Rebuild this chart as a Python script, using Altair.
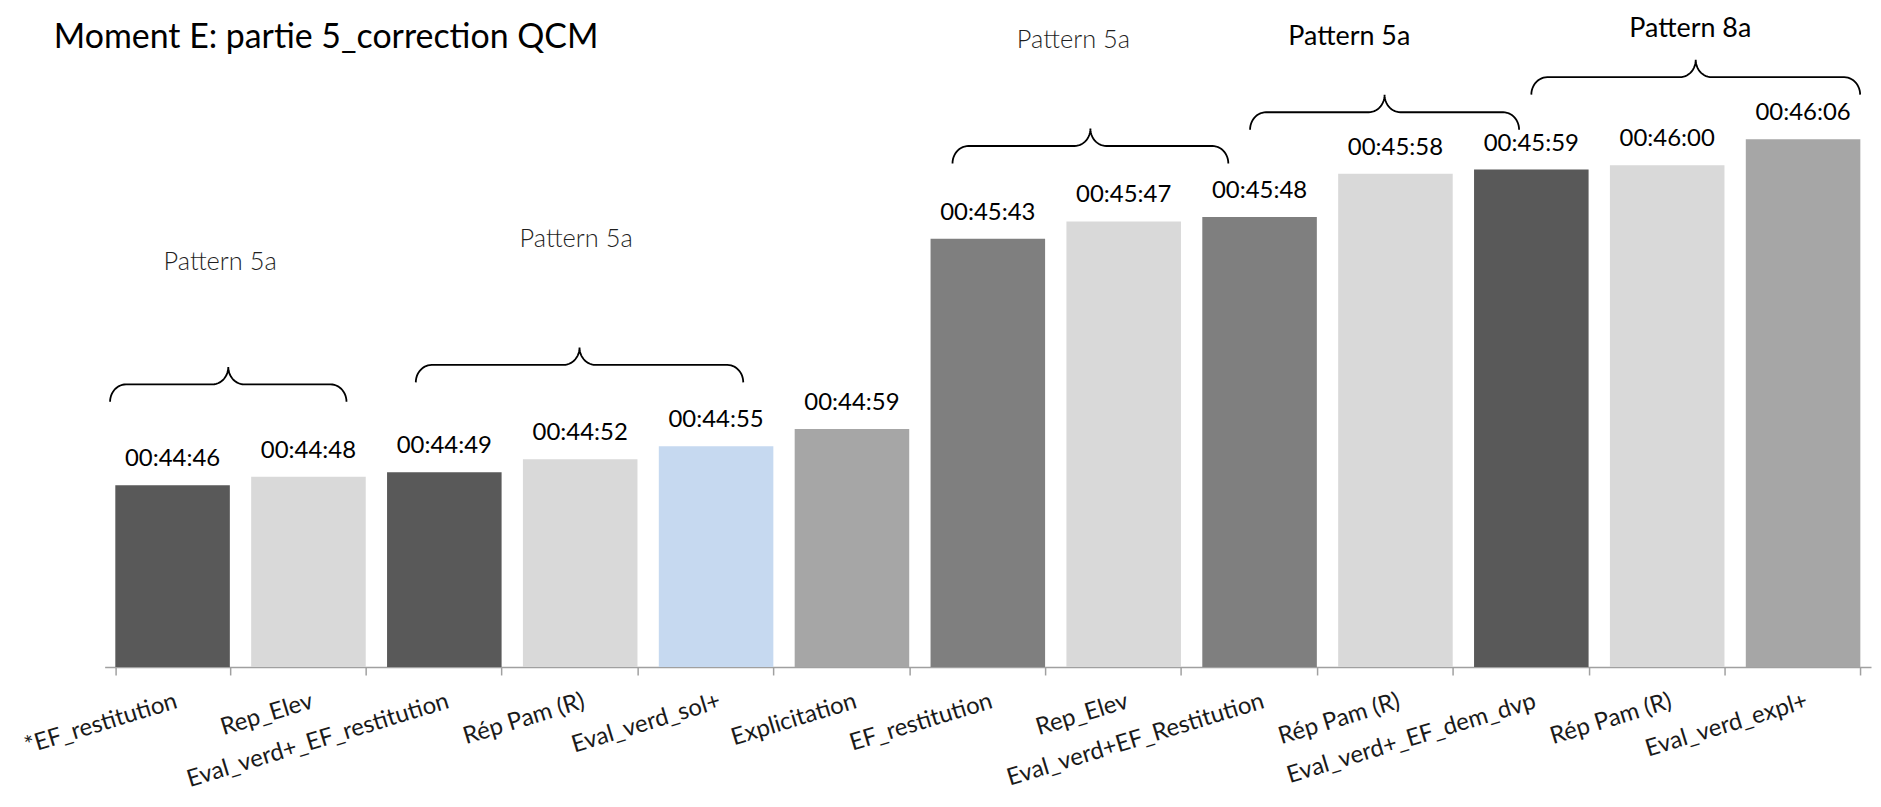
import json
import numpy as np
import pandas as pd
import altair as alt

# ---------------- data ----------------
categories = [
    "*EF_restitution", "Rep_Elev", "Eval_verd+_EF_restitution", "Rép Pam (R)",
    "Eval_verd_sol+", "Explicitation", "EF_restitution", "Rep_Elev",
    "Eval_verd+EF_Restitution", "Rép Pam (R)", "Eval_verd+_EF_dem_dvp",
    "Rép Pam (R)", "Eval_verd_expl+",
]
times = [
    "00:44:46", "00:44:48", "00:44:49", "00:44:52", "00:44:55", "00:44:59",
    "00:45:43", "00:45:47", "00:45:48", "00:45:58", "00:45:59", "00:46:00",
    "00:46:06",
]
bar_colors = [
    "#595959", "#D9D9D9", "#595959", "#D9D9D9", "#C6D9F0", "#A6A6A6",
    "#7F7F7F", "#D9D9D9", "#7F7F7F", "#D9D9D9", "#595959", "#D9D9D9",
    "#A6A6A6",
]

# annotation braces (x in category units, y in seconds)
brace_start = [0.04, 2.29, 6.24, 8.43, 10.50]
brace_end = [1.78, 4.70, 8.27, 10.41, 12.92]
brace_tip = [2705.3, 2709.8, 2760.4, 2768.2, 2776.3]

pattern_text = ["Pattern 5a", "Pattern 5a", "Pattern 5a", "Pattern 5a", "Pattern 8a"]
pattern_x = [0.85, 3.47, 7.13, 9.16, 11.67]
pattern_y = [2737.6, 2742.9, 2789.0, 2789.6, 2791.4]
pattern_kind = ["light", "light", "light", "regular", "regular"]

# ---------------- layout constants ----------------
W, H = 1773, 634
Y_MIN, Y_MAX = 2644, 2790
N = len(categories)
FONT = "Lato"

secs = pd.to_timedelta(times).total_seconds().astype(float)
bars_df = pd.DataFrame({
    "idx": list(range(N)),
    "sec": secs,
    "label": times,
    "color": bar_colors,
})

# brace paths built from the brace specs
px_x = W / N
px_y = H / (Y_MAX - Y_MIN)
rx = 16 / px_x
hh = 17.5 / px_y
t = np.linspace(0, np.pi / 2, 14)
rows = []
for b, (xa, xb, tip) in enumerate(zip(brace_start, brace_end, brace_tip)):
    xm = (xa + xb) / 2
    xs = np.concatenate([
        xa + rx * (1 - np.cos(t)),
        xm - rx + rx * np.sin(t),
        (xm + rx - rx * np.sin(t))[::-1],
        (xb - rx * (1 - np.cos(t)))[::-1],
    ])
    ys = np.concatenate([
        tip + hh * np.sin(t),
        tip + hh + hh * (1 - np.cos(t)),
        (tip + hh + hh * (1 - np.cos(t)))[::-1],
        (tip + hh * np.sin(t))[::-1],
    ])
    for k, (xv, yv) in enumerate(zip(xs, ys)):
        rows.append({"brace": b, "k": k, "bx": float(xv), "by": float(yv)})
brace_df = pd.DataFrame(rows)

pat_df = pd.DataFrame({
    "text": pattern_text, "px": pattern_x, "py": pattern_y, "kind": pattern_kind,
})

# ---------------- scales ----------------
xband = alt.Scale(type="band", paddingInner=0.157, paddingOuter=0.0785)
xlin = alt.Scale(domain=[0, N], nice=False, zero=False)
yscale = alt.Scale(domain=[Y_MIN, Y_MAX], nice=False, zero=False)

label_expr = json.dumps(categories, ensure_ascii=False) + "[datum.value]"

bars = alt.Chart(bars_df).mark_bar().encode(
    x=alt.X("idx:O", scale=xband, title=None, axis=alt.Axis(
        labelExpr=label_expr, labelAngle=343, labelAlign="right",
        labelBaseline="top", labelPadding=14, labelFont=FONT,
        labelFontSize=24, labelColor="#1A1A1A", labelLimit=1000,
        labelOverlap=False, tickBand="extent", tickSize=8,
        tickColor="#A0A0A0", tickWidth=1.5, domainColor="#A0A0A0",
        domainWidth=1.5, grid=False)),
    y=alt.Y("sec:Q", scale=yscale, axis=None),
    y2=alt.datum(Y_MIN),
    color=alt.Color("color:N", scale=None),
)

values = alt.Chart(bars_df).mark_text(
    dy=-19, baseline="alphabetic", font=FONT, fontSize=24, color="#000000"
).encode(
    x=alt.X("idx:O", scale=xband, axis=None),
    y=alt.Y("sec:Q", scale=yscale, axis=None),
    text="label:N",
)

braces = alt.Chart(brace_df).mark_line(color="#000000", strokeWidth=1.8).encode(
    x=alt.X("bx:Q", scale=xlin, axis=None),
    y=alt.Y("by:Q", scale=yscale, axis=None),
    detail="brace:N",
    order="k:Q",
)

pat_light = alt.Chart(pat_df).transform_filter(alt.datum.kind == "light").mark_text(
    font=FONT, fontSize=25.5, fontWeight=300, color="#1F1F1F", baseline="middle"
).encode(
    x=alt.X("px:Q", scale=xlin, axis=None),
    y=alt.Y("py:Q", scale=yscale, axis=None),
    text="text:N",
)

pat_reg = alt.Chart(pat_df).transform_filter(alt.datum.kind == "regular").mark_text(
    font=FONT, fontSize=27, fontWeight="normal", color="#000000", baseline="middle"
).encode(
    x=alt.X("px:Q", scale=xlin, axis=None),
    y=alt.Y("py:Q", scale=yscale, axis=None),
    text="text:N",
)

chart = alt.layer(bars, values, braces, pat_light, pat_reg).resolve_scale(
    x="independent"
).properties(
    width=W, height=H,
    title=alt.TitleParams(
        "Moment E: partie 5_correction QCM", anchor="start", frame="group",
        font=FONT, fontSize=34, fontWeight="normal", color="#000000",
        dx=-51, offset=0, baseline="alphabetic", dy=67,
    ),
    autosize=alt.AutoSizeParams(type="none"),
    padding={"left": 97, "top": 26, "right": 2, "bottom": 126},
    background="#FFFFFF",
).configure_view(stroke=None)

chart.save("out.html", embed_options={"renderer": "svg", "actions": False})
